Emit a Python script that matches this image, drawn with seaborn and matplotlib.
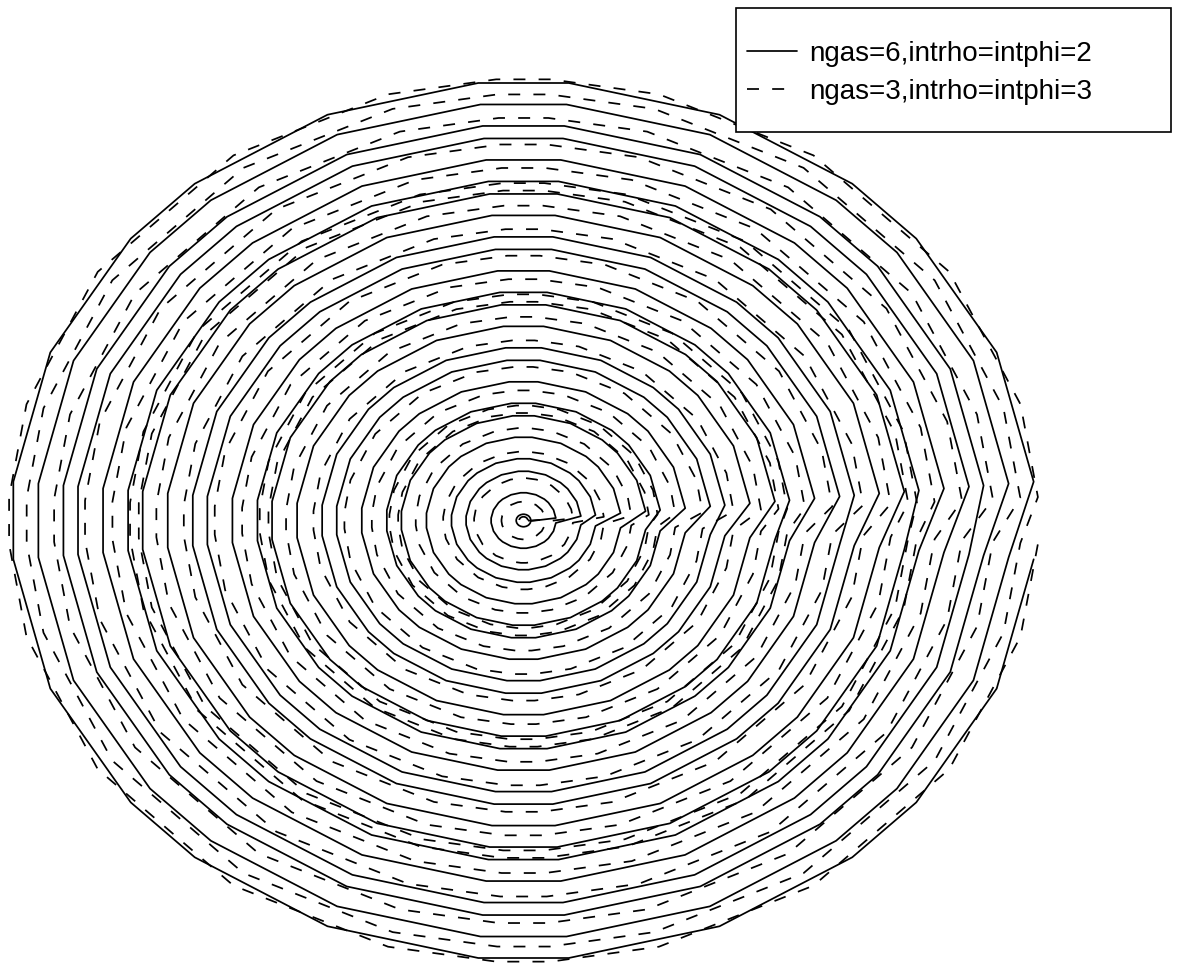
import numpy as np
import pandas as pd
import matplotlib
matplotlib.use("Agg")
import matplotlib.pyplot as plt
from matplotlib.lines import Line2D
from matplotlib.patches import Rectangle
import seaborn as sns

# Normalised pupil radii of the sampled rings and the azimuths (degrees)
# of the sample points on each ring, for the two ray-grid settings.
rho_solid = [0.0141, 0.0625, 0.1109, 0.1391, 0.1875, 0.2359,
             0.2641, 0.3125, 0.3609, 0.3891, 0.4375, 0.4859,
             0.5141, 0.5625, 0.6109, 0.6391, 0.6875, 0.7359,
             0.7641, 0.8125, 0.8609, 0.8891, 0.9375, 0.9859]
phi_solid = [5.07, 22.50, 39.93, 50.07, 67.50, 84.93,
             95.07, 112.50, 129.93, 140.07, 157.50, 174.93,
             185.07, 202.50, 219.93, 230.07, 247.50, 264.93,
             275.07, 292.50, 309.93, 320.07, 337.50, 354.93]

rho_dashed = [0.0084, 0.0424, 0.0952, 0.1548, 0.2077, 0.2416,
              0.2584, 0.2924, 0.3452, 0.4048, 0.4577, 0.4916,
              0.5084, 0.5424, 0.5952, 0.6548, 0.7077, 0.7416,
              0.7584, 0.7924, 0.8452, 0.9048, 0.9577, 0.9916]
phi_dashed = [3.04, 15.25, 34.26, 55.74, 74.75, 86.96,
              93.04, 105.25, 124.26, 145.74, 164.75, 176.96,
              183.04, 195.25, 214.26, 235.74, 254.75, 266.96,
              273.04, 285.25, 304.26, 325.74, 344.75, 356.96]

series_labels = ["ngas=6,intrho=intphi=2", "ngas=3,intrho=intphi=3"]


def ring_path(rhos, phis, label):
    """Walk ring after ring, each one sampled at the given azimuths."""
    rows = []
    step = 0
    for r in rhos:
        for p in phis:
            t = np.deg2rad(p)
            rows.append((r * np.cos(t), r * np.sin(t), label, step))
            step += 1
    return rows


rows = ring_path(rho_solid, phi_solid, series_labels[0]) + \
       ring_path(rho_dashed, phi_dashed, series_labels[1])
df = pd.DataFrame(rows, columns=["x", "y", "grid", "step"])

sns.set_style("white")
plt.rcParams["font.family"] = ["Liberation Sans", "DejaVu Sans"]

W, H = 1183, 967
fig = plt.figure(figsize=(W / 100, H / 100), dpi=100)
ax = fig.add_axes([0, 0, 1, 1])

lw = 1.25
dash = (6.9, 7.6)
sns.lineplot(data=df, x="x", y="y", style="grid", sort=False, estimator=None,
             color="black", linewidth=lw,
             dashes={series_labels[0]: "", series_labels[1]: dash},
             legend=False, ax=ax)

# pixel-based placement of the pupil centre and scale
cx, cy = 523.5, 520.5
sx, sy = 519.5, 445.5
ax.set_xlim(-cx / sx, (W - cx) / sx)
ax.set_ylim(-(H - cy) / sy, cy / sy)
ax.set_axis_off()

# legend box
x0, x1, y0, y1 = 736, 1171, 8, 132
fig.patches.append(Rectangle((x0 / W, 1 - y1 / H), (x1 - x0) / W, (y1 - y0) / H,
                             transform=fig.transFigure, facecolor="white",
                             edgecolor="black", linewidth=1.2, zorder=5))
handles = [Line2D([], [], color="black", linewidth=lw),
           Line2D([], [], color="black", linewidth=lw, dashes=dash)]
leg = fig.legend(handles, series_labels, loc="upper left",
                 bbox_to_anchor=(747 / W, 1 - 41 / H),
                 frameon=False, fontsize=20, borderpad=0, borderaxespad=0,
                 handlelength=1.8, handletextpad=0.45, labelspacing=0.43,
                 labelcolor="black")
leg.set_zorder(6)

fig.savefig("out.png", dpi=100)
